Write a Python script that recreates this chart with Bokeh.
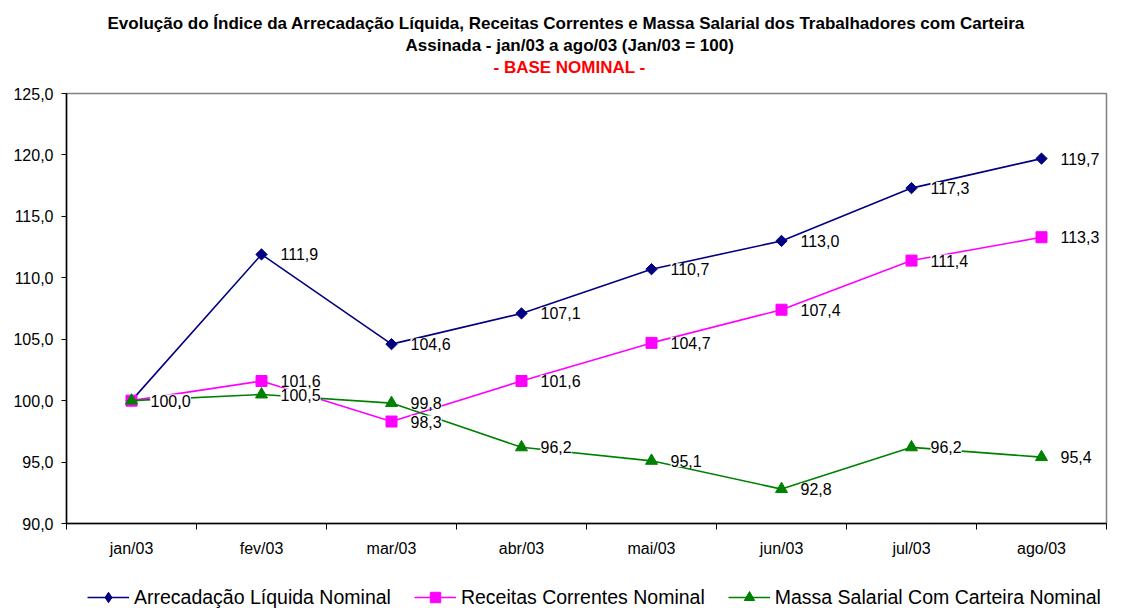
import math
from bokeh.plotting import figure
from bokeh.layouts import column
from bokeh.models import (Range1d, FixedTicker, ColumnDataSource, LabelSet, Title,
                          Legend, LegendItem)
from bokeh.core.properties import value
from bokeh.embed import file_html
from bokeh.resources import INLINE

months = ["jan/03", "fev/03", "mar/03", "abr/03", "mai/03", "jun/03", "jul/03", "ago/03"]
arrecadacao = [100.0, 111.9, 104.6, 107.1, 110.7, 113.0, 117.3, 119.7]
receitas = [100.0, 101.6, 98.3, 101.6, 104.7, 107.4, 111.4, 113.3]
massa = [100.0, 100.5, 99.8, 96.2, 95.1, 92.8, 96.2, 95.4]
y_ticks = [90, 95, 100, 105, 110, 115, 120, 125]
y_tick_labels = ["90,0", "95,0", "100,0", "105,0", "110,0", "115,0", "120,0", "125,0"]
series_names = ["Arrecadação Líquida Nominal", "Receitas Correntes Nominal",
                "Massa Salarial Com Carteira Nominal"]
title_lines = ["Evolução do Índice da Arrecadação Líquida, Receitas Correntes e Massa Salarial dos Trabalhadores com Carteira",
               "Assinada - jan/03 a ago/03 (Jan/03 = 100)",
               "- BASE NOMINAL -"]

FONT = "Liberation Sans"
xs = [i + 0.5 for i in range(len(months))]

p = figure(width=1124, height=576, x_range=Range1d(0, len(months)), y_range=Range1d(90, 125),
           output_backend="svg", toolbar_location=None,
           min_border_left=66, min_border_right=18, min_border_top=93, min_border_bottom=53)
p.grid.visible = False
p.outline_line_color = "#808080"
p.outline_line_width = 1.5
p.background_fill_color = "white"
p.border_fill_color = "white"

# axes
p.yaxis.ticker = FixedTicker(ticks=y_ticks)
p.yaxis.major_label_overrides = {t: l for t, l in zip(y_ticks, y_tick_labels)}
p.yaxis.major_tick_out = 5
p.yaxis.major_tick_in = 0
p.yaxis.minor_tick_line_color = None
p.yaxis.axis_line_color = "black"
p.yaxis.axis_line_width = 1.5
p.yaxis.major_label_text_font = FONT
p.yaxis.major_label_text_font_size = "16px"
p.yaxis.major_label_text_color = "black"
p.yaxis.major_label_standoff = 8

p.xaxis.ticker = FixedTicker(ticks=xs, minor_ticks=list(range(len(months) + 1)))
p.xaxis.major_label_overrides = {x: m for x, m in zip(xs, months)}
p.xaxis.major_tick_line_color = None
p.xaxis.minor_tick_out = 6
p.xaxis.minor_tick_in = 0
p.xaxis.minor_tick_line_color = "black"
p.xaxis.axis_line_color = "black"
p.xaxis.axis_line_width = 1.5
p.xaxis.major_label_text_font = FONT
p.xaxis.major_label_text_font_size = "16px"
p.xaxis.major_label_text_color = "black"
p.xaxis.major_label_standoff = 10

colors = ["#000080", "#FF00FF", "#008000"]
markers = ["square", "square", "triangle"]
legend_markers = ["diamond", "square", "triangle"]
sizes = [8, 11, 12]
angles = [math.pi / 4, 0, 0]
all_series = [arrecadacao, receitas, massa]

# separate strip below the chart that holds the legend
leg_fig = figure(width=1124, height=32, x_range=Range1d(1000, 1001), y_range=Range1d(1000, 1001),
                 output_backend="svg", toolbar_location=None,
                 x_axis_location=None, y_axis_location=None,
                 min_border_left=0, min_border_right=0, min_border_top=0, min_border_bottom=0)
leg_fig.grid.visible = False
leg_fig.outline_line_color = None
leg_fig.background_fill_color = "white"
leg_fig.border_fill_color = "white"

items = []
for name, vals, c, m, lm, s, a in zip(series_names, all_series, colors, markers, legend_markers, sizes, angles):
    src = ColumnDataSource(dict(x=xs, y=vals))
    p.line("x", "y", source=src, line_color=c, line_width=1.6)
    p.scatter("x", "y", source=src, marker=m, size=s, angle=a, fill_color=c, line_color=c)
    l1 = leg_fig.line("x", "y", source=src, line_color=c, line_width=1.6)
    l2 = leg_fig.scatter("x", "y", source=src, marker=lm, size=s, fill_color=c, line_color=c)
    items.append(LegendItem(label=name, renderers=[l1, l2]))

for vals in all_series:
    src = ColumnDataSource(dict(x=xs, y=vals, lab=[f"{v:.1f}".replace(".", ",") for v in vals]))
    ls = LabelSet(x="x", y="y", text="lab", source=src, x_offset=19, y_offset=0,
                  text_align="left", text_baseline="middle", text_font=value(FONT),
                  text_font_size=value("16px"), text_color="black",
                  background_fill_color="white")
    p.add_layout(ls)

# titles (added bottom-most first; a blank spacer sits next to the plot)
p.title.visible = False
p.add_layout(Title(text=" ", text_font_size="12px", standoff=0), "above")
title_colors = ["black", "black", "#FF0000"]
title_offsets = [41, 339, 427]
for t, c, off in reversed(list(zip(title_lines, title_colors, title_offsets))):
    p.add_layout(Title(text=t, align="left", offset=off, standoff=1, text_font=FONT,
                       text_font_size="17px", text_font_style="bold", text_color=c), "above")

legend = Legend(items=items, location=(21, -2), orientation="horizontal",
                label_text_font=FONT, label_text_font_size="19.5px", label_text_color="black",
                glyph_width=42, glyph_height=26, label_height=20, label_standoff=5, spacing=23,
                padding=0, margin=0, border_line_color=None, background_fill_alpha=0)
leg_fig.add_layout(legend)

layout = column(p, leg_fig, spacing=0)
open("out.html", "w").write(file_html(layout, INLINE))
